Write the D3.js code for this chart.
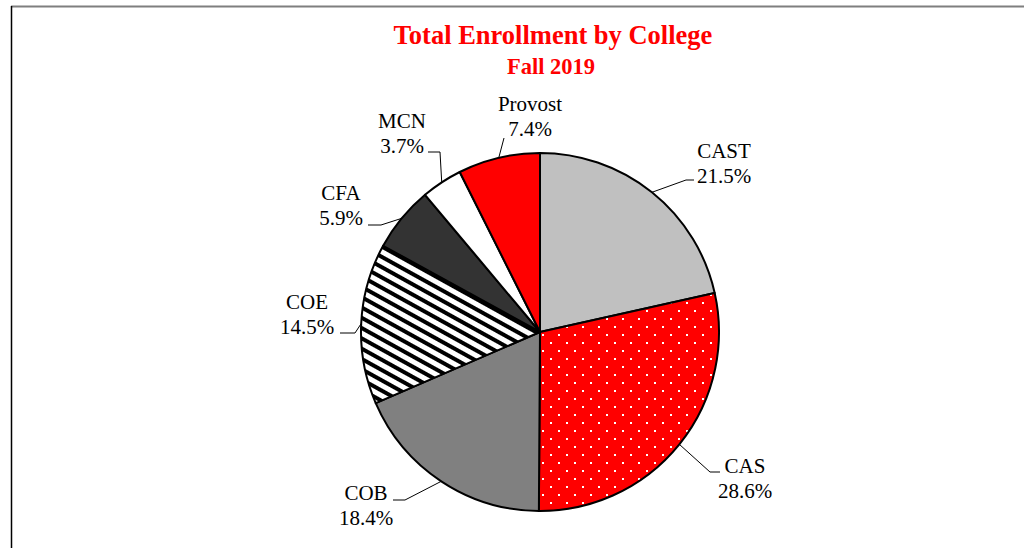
<!DOCTYPE html>
<html>
<head>
<meta charset="utf-8">
<script src="https://cdn.jsdelivr.net/npm/d3@7"></script>
<style>
  html, body { margin: 0; padding: 0; background: #fff; }
  #chart-holder { width: 1024px; height: 548px; }
</style>
</head>
<body>
<div id="chart-holder"></div>
<script>
// Chart data
var colleges = ["CAST", "CAS", "COB", "COE", "CFA", "MCN", "Provost"];
var shares = [21.5, 28.6, 18.4, 14.5, 5.9, 3.7, 7.4];
var shareLabels = ["21.5%", "28.6%", "18.4%", "14.5%", "5.9%", "3.7%", "7.4%"];
var titleLines = ["Total Enrollment by College", "Fall 2019"];

// Slice fills (pattern ids for CAS / COE)
var fills = ["#c0c0c0", "url(#dots)", "#808080", "url(#stripes)", "#333333", "#ffffff", "#ff0000"];

// Label placement: text centre x, first baseline y, leader end and elbow x
var labelLayout = [
  {x: 724, y: 158, lx: 694, ly: 180, ex: 686},
  {x: 745, y: 473, lx: 720, ly: 472, ex: 710},
  {x: 366, y: 500, lx: 393, ly: 500, ex: 405},
  {x: 307, y: 309, lx: 340, ly: 333, ex: 355},
  {x: 341, y: 200, lx: 368, ly: 225, ex: 381},
  {x: 402, y: 128, lx: 428, ly: 152, ex: 440},
  {x: 530, y: 111, lx: 504, ly: 138, ex: 504}
];

var serif = "'Liberation Serif', 'Times New Roman', Times, serif";

var width = 1024, height = 548;
var cx = 540, cy = 332, radius = 179;

var svg = d3.select("#chart-holder")
  .append("svg")
  .attr("width", width)
  .attr("height", height)
  .style("font-family", serif);

// Patterns
var defs = svg.append("defs");

var dots = defs.append("pattern")
  .attr("id", "dots")
  .attr("patternUnits", "userSpaceOnUse")
  .attr("width", 16)
  .attr("height", 16);
dots.append("rect").attr("width", 16).attr("height", 16).attr("fill", "#ff0000");
dots.append("rect").attr("x", 2).attr("y", 2).attr("width", 2).attr("height", 2).attr("fill", "#fff");
dots.append("rect").attr("x", 10).attr("y", 10).attr("width", 2).attr("height", 2).attr("fill", "#fff");

var stripes = defs.append("pattern")
  .attr("id", "stripes")
  .attr("patternUnits", "userSpaceOnUse")
  .attr("width", 20)
  .attr("height", 9)
  .attr("patternTransform", "rotate(29)");
stripes.append("rect").attr("width", 20).attr("height", 9).attr("fill", "#fff");
stripes.append("rect").attr("width", 20).attr("height", 4).attr("fill", "#000");

// Frame
svg.append("line")
  .attr("x1", 11).attr("y1", 6.5).attr("x2", width).attr("y2", 6.5)
  .attr("stroke", "#7f7f7f").attr("stroke-width", 2);
svg.append("line")
  .attr("x1", 11.5).attr("y1", 6).attr("x2", 11.5).attr("y2", height)
  .attr("stroke", "#000").attr("stroke-width", 1.5);

// Title
svg.append("text")
  .attr("x", 553).attr("y", 44)
  .attr("text-anchor", "middle")
  .attr("font-family", serif)
  .attr("font-weight", "bold")
  .attr("font-size", 26.5)
  .attr("fill", "#ff0000")
  .text(titleLines[0]);
svg.append("text")
  .attr("x", 551).attr("y", 74)
  .attr("text-anchor", "middle")
  .attr("font-family", serif)
  .attr("font-weight", "bold")
  .attr("font-size", 22.5)
  .attr("fill", "#ff0000")
  .text(titleLines[1]);

// Pie
var data = colleges.map(function(c, i) { return {name: c, value: shares[i], label: shareLabels[i], i: i}; });

var pie = d3.pie()
  .sort(null)
  .value(function(d) { return d.value; });

var arc = d3.arc().innerRadius(0).outerRadius(radius);
var edgeArc = d3.arc().innerRadius(radius).outerRadius(radius);

var arcs = pie(data);

var g = svg.append("g")
  .attr("transform", "translate(" + cx + "," + cy + ")");

g.selectAll(".slice")
  .data(arcs)
  .enter()
  .append("path")
  .attr("class", "slice")
  .attr("d", arc)
  .attr("fill", function(d) { return fills[d.data.i]; })
  .attr("stroke", "#000")
  .attr("stroke-width", 2)
  .attr("stroke-linejoin", "round");

// Leader lines
svg.selectAll(".leader")
  .data(arcs)
  .enter()
  .append("polyline")
  .attr("class", "leader")
  .attr("fill", "none")
  .attr("stroke", "#000")
  .attr("stroke-width", 1)
  .attr("points", function(d) {
    var p = edgeArc.centroid(d);
    var L = labelLayout[d.data.i];
    return [[cx + p[0], cy + p[1]], [L.ex, L.ly], [L.lx, L.ly]].join(" ");
  });

// Labels
var labels = svg.selectAll(".label")
  .data(arcs)
  .enter()
  .append("text")
  .attr("class", "label")
  .attr("text-anchor", "middle")
  .attr("font-family", serif)
  .attr("font-size", 21)
  .attr("fill", "#000");

labels.append("tspan")
  .attr("x", function(d) { return labelLayout[d.data.i].x; })
  .attr("y", function(d) { return labelLayout[d.data.i].y; })
  .text(function(d) { return d.data.name; });
labels.append("tspan")
  .attr("x", function(d) { return labelLayout[d.data.i].x; })
  .attr("y", function(d) { return labelLayout[d.data.i].y + 24.5; })
  .text(function(d) { return d.data.label; });
</script>
</body>
</html>
